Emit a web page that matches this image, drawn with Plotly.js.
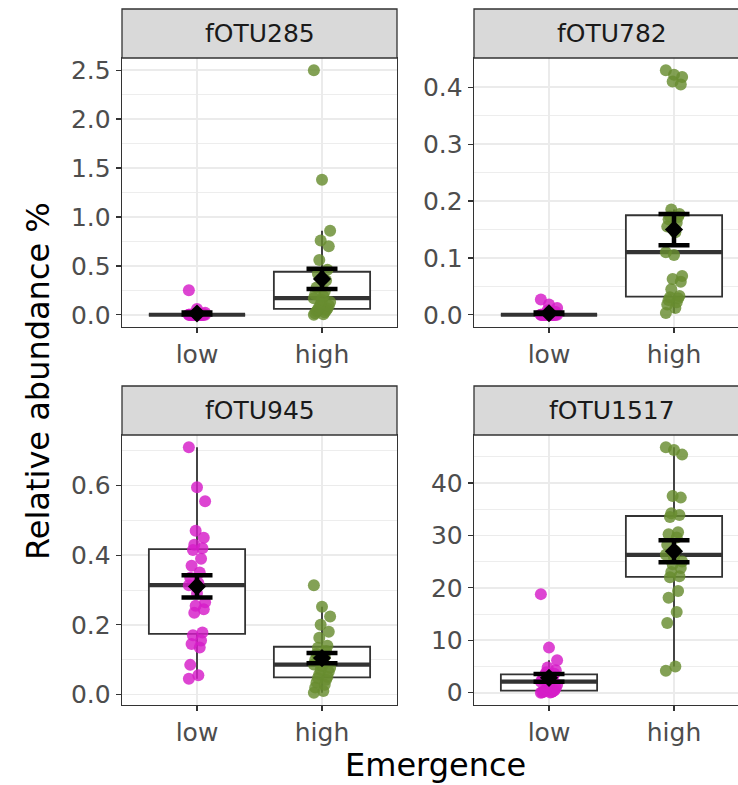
<!DOCTYPE html>
<html>
<head>
<meta charset="utf-8">
<script src="https://cdn.plot.ly/plotly-3.0.1.min.js"></script>
<style>
html,body{margin:0;padding:0;overflow:hidden;background:#fff;}
#chart{width:760px;height:785px;}
</style>
</head>
<body>
<div id="chart"></div>
<script>
// ---------- data ----------
const categories = ['low', 'high'];
const panels = ['fOTU285', 'fOTU782', 'fOTU945', 'fOTU1517'];

const fOTU285_low = [0,0,0,0,0,0,0,0,0,0,0,0,0,0,0,0,0,0,0,0,0,0,0.005,0.01,0.02,0.06,0.25];
const fOTU285_high = [0.0,0.005,0.015,0.025,0.035,0.045,0.055,0.065,0.08,0.095,0.11,0.13,0.15,0.17,0.19,0.21,0.24,0.28,0.35,0.42,0.46,0.56,0.70,0.76,0.86,1.38,2.5];

const fOTU782_low = [0,0,0,0,0,0,0,0,0,0,0,0,0,0,0,0,0,0,0,0,0,0.002,0.005,0.008,0.012,0.018,0.027];
const fOTU782_high = [0.003,0.012,0.018,0.022,0.026,0.029,0.031,0.033,0.045,0.058,0.063,0.068,0.105,0.11,0.145,0.155,0.162,0.168,0.172,0.173,0.177,0.185,0.405,0.41,0.418,0.422,0.43];

const fOTU945_low = [0.045,0.055,0.085,0.135,0.145,0.155,0.17,0.178,0.235,0.245,0.255,0.265,0.29,0.314,0.32,0.335,0.35,0.37,0.39,0.415,0.42,0.43,0.45,0.47,0.555,0.595,0.71];
const fOTU945_high = [0.005,0.01,0.02,0.028,0.035,0.042,0.047,0.051,0.058,0.065,0.071,0.077,0.082,0.086,0.092,0.1,0.108,0.116,0.125,0.134,0.14,0.163,0.18,0.2,0.224,0.252,0.314];

const fOTU1517_low = [0,0.05,0.1,0.15,0.2,0.3,0.35,0.45,0.6,0.9,1.2,1.5,1.8,2.1,2.3,2.5,2.7,2.9,3.1,3.4,3.6,3.9,4.3,4.8,6.2,8.6,18.8];
const fOTU1517_high = [4.2,5.0,13.3,15.4,18.1,19.4,22.0,22.2,23.0,23.8,24.5,25.0,25.8,26.3,27.0,28.2,29.6,30.2,30.6,33.5,33.9,34.2,37.2,37.5,45.4,46.3,46.8];

const yTickStep = [0.5, 0.1, 0.2, 10];
const yTickFormat = ['.1f', '.1f', '.1f', 'd'];

const panelData = [
  [fOTU285_low, fOTU285_high],
  [fOTU782_low, fOTU782_high],
  [fOTU945_low, fOTU945_high],
  [fOTU1517_low, fOTU1517_high]
];

// ---------- styling ----------
const W = 760, H = 785;
const FONT = 'DejaVu Sans';
const groupColors = ['rgba(214,28,200,0.82)', 'rgba(104,140,48,0.82)'];
const panelX = [[122, 397], [474, 749], [122, 397], [474, 749]];
const panelY = [[58, 327], [58, 327], [435, 705], [435, 705]];
const stripH = 49;

// ---------- stats ----------
function quant(sorted, p) {
  const h = (sorted.length - 1) * p;
  const lo = Math.floor(h), hi = Math.ceil(h);
  return sorted[lo] + (h - lo) * (sorted[hi] - sorted[lo]);
}
function stats(arr) {
  const s = arr.slice().sort((a, b) => a - b);
  const q1 = quant(s, 0.25), med = quant(s, 0.5), q3 = quant(s, 0.75);
  const iqr = q3 - q1;
  const lf = Math.min(...s.filter(v => v >= q1 - 1.5 * iqr));
  const uf = Math.max(...s.filter(v => v <= q3 + 1.5 * iqr));
  const n = s.length;
  const mean = s.reduce((a, b) => a + b, 0) / n;
  const sd = Math.sqrt(s.reduce((a, b) => a + (b - mean) * (b - mean), 0) / (n - 1));
  return {q1, med, q3, lf, uf, mean, se: sd / Math.sqrt(n)};
}
function jitter(i) {
  return (((i * 7) % 13) / 12 - 0.5) * 0.13;
}

const traces = [];
const layout = {
  width: W, height: H,
  margin: {l: 0, r: 0, t: 0, b: 0},
  paper_bgcolor: '#fff', plot_bgcolor: '#fff',
  showlegend: false,
  hovermode: false,
  shapes: [],
  annotations: []
};

const boxW = 0.77;
panels.forEach((name, p) => {
  const ax = p === 0 ? '' : String(p + 1);
  const xa = 'x' + ax, ya = 'y' + ax;
  const all = panelData[p][0].concat(panelData[p][1]);
  const mn = Math.min(...all), mx = Math.max(...all);
  const pad = (mx - mn) * 0.05;

  panelData[p].forEach((vals, g) => {
    const st = stats(vals);
    traces.push({
      type: 'box', xaxis: xa, yaxis: ya,
      x: [g], q1: [st.q1], median: [st.med], q3: [st.q3],
      lowerfence: [st.lf], upperfence: [st.uf],
      width: boxW, whiskerwidth: 0,
      fillcolor: '#ffffff',
      line: {color: '#333333', width: 1.8},
      boxpoints: false, hoverinfo: 'skip'
    });
    traces.push({
      type: 'scatter', mode: 'lines', xaxis: xa, yaxis: ya,
      x: [g - boxW / 2, g + boxW / 2], y: [st.med, st.med],
      line: {color: '#333333', width: 4.2}, hoverinfo: 'skip'
    });
    traces.push({
      type: 'scatter', mode: 'markers', xaxis: xa, yaxis: ya,
      x: vals.map((v, i) => g + jitter(i)), y: vals,
      marker: {size: 12, color: groupColors[g], line: {width: 0}},
      hoverinfo: 'skip'
    });
    traces.push({
      type: 'scatter', mode: 'markers', xaxis: xa, yaxis: ya,
      x: [g], y: [st.mean],
      marker: {symbol: 'diamond', size: 14, color: '#000'},
      error_y: {type: 'data', array: [st.se], color: '#000', thickness: 4.5, width: 15.5},
      hoverinfo: 'skip'
    });
  });

  const px = panelX[p], py = panelY[p];
  layout['xaxis' + ax] = {
    domain: [px[0] / W, px[1] / W], anchor: ya,
    range: [-0.6, 1.6], tickmode: 'array', tickvals: [0, 1], ticktext: categories,
    showgrid: true, gridcolor: '#EBEBEB', gridwidth: 1.6, zeroline: false,
    ticks: 'outside', ticklen: 5, tickwidth: 1.3, tickcolor: '#333333',
    showline: true, mirror: true, linecolor: '#333333', linewidth: 1.3,
    tickfont: {family: FONT, size: 25, color: '#4D4D4D'}, fixedrange: true
  };
  layout['yaxis' + ax] = {
    domain: [1 - py[1] / H, 1 - py[0] / H], anchor: xa,
    range: [mn - pad, mx + pad],
    tickmode: 'linear', tick0: 0, dtick: yTickStep[p], tickformat: yTickFormat[p],
    minor: {tick0: 0, dtick: yTickStep[p] / 2, showgrid: true, gridcolor: '#EBEBEB', gridwidth: 0.9},
    showgrid: true, gridcolor: '#EBEBEB', gridwidth: 1.6, zeroline: false,
    ticks: 'outside', ticklen: 5, tickwidth: 1.3, tickcolor: '#333333',
    showline: true, mirror: true, linecolor: '#333333', linewidth: 1.3,
    tickfont: {family: FONT, size: 25, color: '#4D4D4D'}, fixedrange: true
  };
  const y1 = 1 - py[0] / H;
  layout.shapes.push({
    type: 'rect', xref: 'paper', yref: 'paper',
    x0: px[0] / W, x1: px[1] / W, y0: y1, y1: y1 + stripH / H,
    fillcolor: '#D9D9D9', line: {color: '#333333', width: 1.3}
  });
  layout.annotations.push({
    xref: 'paper', yref: 'paper',
    x: (px[0] + px[1]) / 2 / W, y: y1 + stripH / 2 / H,
    xanchor: 'center', yanchor: 'middle', showarrow: false,
    text: name, font: {family: FONT, size: 25, color: '#1A1A1A'}
  });
});

layout.annotations.push({
  xref: 'paper', yref: 'paper', x: 38 / W, y: 1 - 381 / H,
  xanchor: 'center', yanchor: 'middle', showarrow: false, textangle: -90,
  text: 'Relative abundance %', font: {family: FONT, size: 32, color: '#000'}
});
layout.annotations.push({
  xref: 'paper', yref: 'paper', x: 435.5 / W, y: 1 - 765 / H,
  xanchor: 'center', yanchor: 'middle', showarrow: false,
  text: 'Emergence', font: {family: FONT, size: 32, color: '#000'}
});

Plotly.newPlot('chart', traces, layout, {staticPlot: true, displayModeBar: false});
</script>
</body>
</html>
